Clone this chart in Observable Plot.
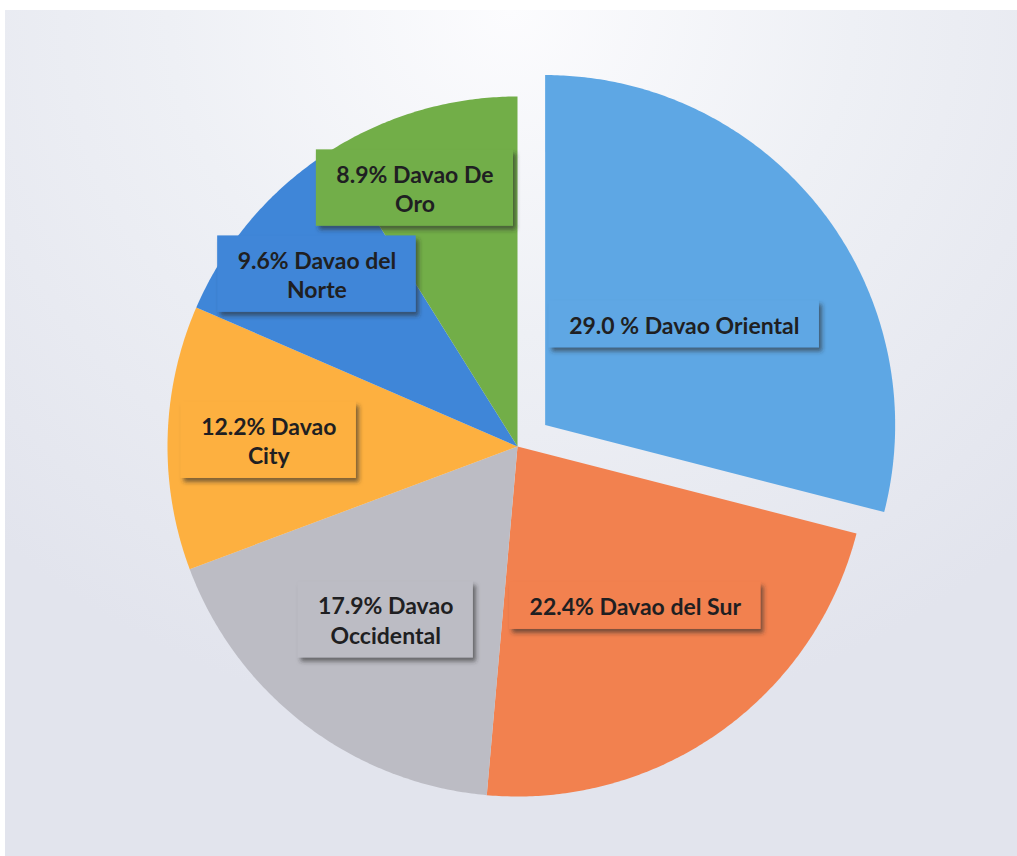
<!DOCTYPE html>
<html><head><meta charset="utf-8">
<script src="https://cdn.jsdelivr.net/npm/d3@7"></script>
<script src="https://cdn.jsdelivr.net/npm/@observablehq/plot@0.6"></script>
<style>
html,body{margin:0;padding:0;background:#fff;overflow:hidden;}
#frame{position:absolute;left:5px;top:10px;width:1012px;height:846px;
  background:radial-gradient(ellipse 75% 85% at 50% 0%, #fcfcfe 0%, #eef0f5 45%, #e2e4ed 100%);}
</style></head><body><div id="frame"></div>
<script>
// ---- data ----
const regions = ["Davao Oriental","Davao del Sur","Davao Occidental","Davao City","Davao del Norte","Davao De Oro"];
const shares  = [29.0, 22.4, 17.9, 12.2, 9.6, 8.9];
const labels  = ["29.0 % Davao Oriental","22.4% Davao del Sur","17.9% Davao\nOccidental","12.2% Davao\nCity","9.6% Davao del\nNorte","8.9% Davao De\nOro"];
const colors  = ["#5ea7e4","#f2814f","#bcbcc4","#fdb040","#3f86d8","#72ae48"];
const exploded = ["Davao Oriental"];

// ---- layout ----
const W = 1012, H = 846, R = 350, cx = 512, cy = 436;
const explodeDist = 0.1;
const fontSize = 23, lineH = 1.27, padX = 20, padY = 9, margin = 4;
const font = "Lato, 'Open Sans', sans-serif";

const ctx = document.createElement("canvas").getContext("2d");
ctx.font = `bold ${fontSize}px Lato`;

const data = regions.map((name, i) => ({name, share: shares[i], label: labels[i]}));
const arcs = d3.pie().sort(null).value(d => d.share).startAngle(0).endAngle(2 * Math.PI)(data);
const maxShare = d3.max(shares);

const slicePts = [];
const labelPts = [];
for (const a of arcs) {
  const a0 = a.startAngle, a1 = a.endAngle, mid = (a0 + a1) / 2;
  const off = exploded.includes(a.data.name) ? explodeDist : 0;
  const ox = off * Math.sin(mid), oy = off * Math.cos(mid);
  slicePts.push({name: a.data.name, x: ox, y: oy});
  const n = Math.max(2, Math.ceil((a1 - a0) / (Math.PI / 360)));
  for (let j = 0; j <= n; j++) {
    const t = a0 + (a1 - a0) * j / n;
    slicePts.push({name: a.data.name, x: ox + Math.sin(t), y: oy + Math.cos(t)});
  }
  // label box: narrower slices push their label further out toward the rim
  const lines = a.data.label.split("\n");
  const tw = d3.max(lines, l => ctx.measureText(l).width);
  const hw = (tw / 2 + padX) / R, hh = (lines.length * fontSize * lineH / 2 + padY) / R;
  const k = 1 - 0.53 * Math.pow(a.data.share / maxShare, 0.7);
  let lx = ox + k * Math.sin(mid), ly = oy + k * Math.cos(mid);
  // keep the box inside its slice across near-vertical slice edges
  const rays = [[Math.cos(a0), -Math.sin(a0), a0], [-Math.cos(a1), Math.sin(a1), a1]];
  for (const [nx, ny, ang] of rays) {
    if (Math.abs(nx) < 0.9) continue;
    const dx0 = Math.sin(ang), dy0 = Math.cos(ang);
    let v = 0;
    for (const [sx, sy] of [[-1, -1], [-1, 1], [1, -1], [1, 1]]) {
      const px = lx + sx * hw - ox, py = ly + sy * hh - oy;
      if (px * dx0 + py * dy0 <= 0) continue;
      v = Math.max(v, margin / R - (px * nx + py * ny));
    }
    if (v > 0) lx += v / nx;
  }
  labelPts.push({name: a.data.name, label: a.data.label, x: lx, y: ly,
    x1: lx - hw, x2: lx + hw, y1: ly - hh, y2: ly + hh});
}

const svg = Plot.plot({
  width: W, height: H, margin: 0,
  x: {domain: [-1, 1], range: [cx - R, cx + R], axis: null},
  y: {domain: [-1, 1], range: [cy + R, cy - R], axis: null},
  color: {domain: regions, range: colors},
  style: {background: "transparent", fontFamily: font},
  marks: [
    Plot.line(slicePts, {x: "x", y: "y", z: "name", fill: "name", stroke: "none", curve: "linear"}),
    Plot.rect(labelPts, {x1: "x1", x2: "x2", y1: "y1", y2: "y2", fill: "name", inset: 0}),
    Plot.text(labelPts, {x: "x", y: "y", text: "label", fill: "#1f1f22", fontSize, fontWeight: "bold",
      fontFamily: font, lineHeight: lineH})
  ]
});
document.getElementById("frame").append(svg);

// drop shadow under the label boxes
const ns = "http://www.w3.org/2000/svg";
const defs = document.createElementNS(ns, "defs");
defs.innerHTML = '<filter id="shadow" x="-20%" y="-30%" width="140%" height="170%"><feDropShadow dx="3" dy="4" stdDeviation="2.2" flood-color="#2a2a2a" flood-opacity="0.6"/></filter>';
svg.insertBefore(defs, svg.firstChild);
svg.querySelectorAll('g[aria-label="rect"] rect').forEach(r => r.setAttribute("filter", "url(#shadow)"));
</script>
</body></html>
